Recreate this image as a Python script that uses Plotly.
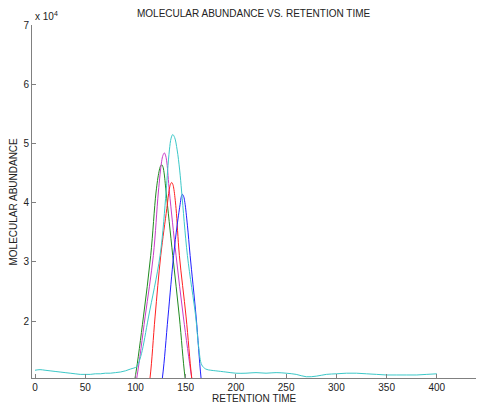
import plotly.graph_objects as go

# Retention time sample points and abundance values
green_x = [92, 99.6, 107.9, 115.2, 120.5, 123.4, 124.9, 126.2, 127.3, 128.4, 130.5, 137.1, 143.7, 149.4, 155]
green_y = [4000, 10390, 20700, 31100, 41800, 45200, 46150, 46400, 46080, 45150, 41800, 31100, 20700, 10390, 4000]

magenta_x = [94, 101.3, 109.6, 117.8, 122.8, 126.0, 127.4, 128.8, 130.1, 131.3, 133.8, 140.4, 147.7, 156, 162]
magenta_y = [4000, 10390, 20700, 31100, 41800, 46900, 48000, 48400, 47900, 46700, 41800, 31100, 20700, 10390, 4000]

red_x = [109, 114.5, 119.5, 125.2, 131.2, 133.6, 134.8, 136.1, 137.3, 138.3, 140.4, 143.7, 150.4, 156, 161]
red_y = [4000, 10390, 20700, 31100, 39000, 42200, 43070, 43400, 43040, 42200, 39000, 31100, 20700, 10390, 4000]

blue_x = [121, 126.8, 132.4, 138.0, 141.5, 144.7, 145.7, 146.7, 148.0, 149.2, 151.7, 154.4, 160.4, 165.3, 170]
blue_y = [4000, 10390, 20700, 31100, 36200, 40000, 41050, 41400, 41030, 40000, 36200, 31100, 20700, 10390, 4000]

cyan_x = [0, 5, 10, 15, 20, 25, 30, 35, 40, 45, 50, 55, 60, 65, 70, 75, 80, 85, 90, 95,
          101.3, 103, 106, 113, 124.5, 130.5, 132, 133.8, 135.5, 137.1, 139.0, 141.5, 144, 146,
          151.7, 160, 163, 166,
          170, 175, 180, 190, 200, 210, 220, 230, 240, 250, 260, 270, 280, 290, 300, 310,
          320, 330, 340, 350, 360, 370, 380, 390, 400]
cyan_y = [11700, 11800, 11700, 11600, 11500, 11400, 11300, 11200, 11100, 11000, 11000, 11000,
          11100, 11100, 11200, 11200, 11300, 11400, 11600, 11900,
          12300, 12900, 14500, 20700, 31100, 41800, 45400, 48900, 50900, 51500, 51000, 48900, 45500, 41800,
          31100, 20700, 15500, 12600,
          11900, 11700, 11600, 11400, 11200, 11200, 11300, 11200, 11300, 11200, 11000, 10600,
          10700, 11000, 11100, 11200, 11200, 11100, 11000, 10900, 10900, 10900, 10900, 11000,
          11100]

x_ticks = [0, 50, 100, 150, 200, 250, 300, 350, 400]
y_ticks = [20000, 30000, 40000, 50000, 60000, 70000]
y_ticktext = ["2", "3", "4", "5", "6", "7"]

series = [
    (green_x, green_y, "#1f8a1f"),
    (magenta_x, magenta_y, "#c83cc8"),
    (red_x, red_y, "#ff2020"),
    (blue_x, blue_y, "#2020ff"),
    (cyan_x, cyan_y, "#3cc8c8"),
]

fig = go.Figure()
for xs, ys, col in series:
    fig.add_trace(go.Scatter(x=xs, y=ys, mode="lines",
                             line=dict(color=col, width=1, shape="spline", smoothing=1.0),
                             showlegend=False, hoverinfo="skip"))

font = dict(family="Liberation Sans, Arial, sans-serif", size=10, color="#222")
fig.update_layout(
    width=480, height=403,
    margin=dict(l=32, r=4, t=25, b=25),
    paper_bgcolor="white", plot_bgcolor="white",
    font=font,
    xaxis=dict(range=[-3, 439], tickvals=x_ticks, ticks="inside", ticklen=4, tickcolor="#808080",
               showline=True, linecolor="#808080", linewidth=1, showgrid=False, zeroline=False,
               tickfont=font),
    yaxis=dict(range=[10390, 70000], tickvals=y_ticks, ticktext=y_ticktext, ticks="inside", ticklen=4,
               tickcolor="#808080", showline=True, linecolor="#808080", linewidth=1, showgrid=False,
               zeroline=False, tickfont=font),
    annotations=[
        dict(text="MOLECULAR ABUNDANCE VS. RETENTION TIME", xref="paper", yref="paper", x=0.5, y=1,
             yshift=12, showarrow=False, font=font, xanchor="center", yanchor="middle"),
        dict(text="RETENTION TIME", xref="paper", yref="paper", x=0.5, y=0, yshift=-20,
             showarrow=False, font=font, xanchor="center", yanchor="middle"),
        dict(text="MOLECULAR ABUNDANCE", xref="paper", yref="paper", x=0, y=0.5, xshift=-19,
             textangle=-90, showarrow=False, font=font, xanchor="center", yanchor="middle"),
        dict(text="x 10<sup>4</sup>", xref="paper", yref="paper", x=0, y=1, xshift=1, yshift=9,
             showarrow=False, font=font, xanchor="left", yanchor="middle"),
    ],
)

fig.write_html("out.html")
